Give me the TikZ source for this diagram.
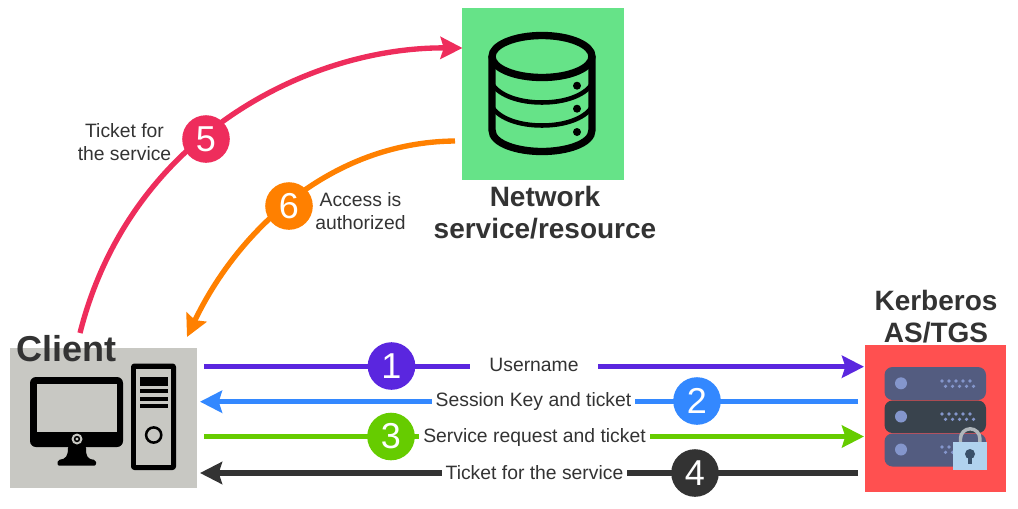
\documentclass[tikz,border=0pt]{standalone}
\usepackage{fontspec}
\setmainfont{Liberation Sans}
\usetikzlibrary{arrows.meta,calc}
\definecolor{cdark}{HTML}{333333}
\definecolor{cviolet}{HTML}{5A26DF}
\definecolor{cblue}{HTML}{3388FF}
\definecolor{cgreen}{HTML}{66CC00}
\definecolor{cred}{HTML}{EE2D5C}
\definecolor{corange}{HTML}{FF8000}
\definecolor{cclient}{HTML}{C8C8C3}
\definecolor{cserver}{HTML}{FF5050}
\definecolor{cres}{HTML}{66E388}
\definecolor{rackA}{HTML}{535C80}
\definecolor{rackB}{HTML}{39434D}
\definecolor{rackDot}{HTML}{8496CC}
\definecolor{lockB}{HTML}{B0D2EE}
\definecolor{lockH}{HTML}{AFB6BB}
\definecolor{lockK}{HTML}{39506A}
\tikzset{
  x=0.75pt,y=-0.75pt,
  conn/.style={line width=4pt,-{Stealth[length=16.5pt,width=16.5pt,inset=2.5pt]}},
  box/.style={anchor=north west,inner sep=0,outer sep=0},
  badge/.style={circle,minimum size=35.7pt,inner sep=0,text=white,font=\fontsize{27}{27}\selectfont},
  lab/.style={fill=white,text=cdark,inner sep=0pt,anchor=base,minimum height=15pt,font=\fontsize{14.5}{17}\selectfont,align=center},
  freelab/.style={text=cdark,inner sep=0pt,font=\fontsize{14.5}{17.3}\selectfont,align=center},
  title/.style={text=cdark,inner sep=0pt,font=\bfseries\fontsize{21}{24}\selectfont,align=center},
}
\begin{document}
\begin{tikzpicture}
\useasboundingbox (0,0) rectangle (1018,508);
% boxes
\node[box,fill=cclient,minimum width=140.25pt,minimum height=105pt] (client) at (10,348) {};
\node[box,fill=cserver,minimum width=105.75pt,minimum height=110.25pt] (server) at (865,345) {};
\node[box,fill=cres,minimum width=121.5pt,minimum height=129pt] (res) at (462,7.5) {};
% client icon: monitor
\fill[black,rounded corners=4.5pt] (30,377) rectangle (123,447);
\fill[cclient] (36.7,383.5) rectangle (117,431.7);
\fill[cclient] (77,439) circle (5.5);
\fill[black] (77,439) circle (3.2);
\fill[cclient] (77,439) circle (1.6);
\fill[black,rounded corners=1.5pt] (68,446) .. controls (68,456) and (66,459) .. (57.5,460) -- (57.5,465.7) -- (96,465.7) -- (96,460) .. controls (87,459) and (86,456) .. (86,446) -- cycle;
% client icon: tower
\fill[black,rounded corners=2.5pt] (131,363.5) rectangle (176,470);
\fill[cclient] (136,368.5) rectangle (171,465);
\fill[black] (140,377) rectangle (167.5,386);
\fill[black] (140,389) rectangle (167.5,393);
\fill[black] (140,396.5) rectangle (167.5,400.5);
\fill[black] (140,403.5) rectangle (167.5,407.5);
\draw[black,line width=1.9pt] (153.7,435) circle (7.6);
% server icon
\fill[rackA,rounded corners=6pt] (884.5,367) rectangle (986,400);
\fill[rackB,rounded corners=6pt] (884.5,400.5) rectangle (986,433);
\fill[rackA,rounded corners=6pt] (884.5,433.5) rectangle (986,466.5);
\foreach \yy in {383.3,416.5,449.5}{\fill[rackDot] (901,\yy) circle (6);}
\foreach \yy in {381,414}{
  \foreach \xx in {942,949,956,963,970}{\fill[rackDot] (\xx,\yy) circle (1.8);\fill[rackDot] (\xx+3.5,\yy+5.3) circle (1.8);}
}
\foreach \xx in {942,949}{\fill[rackDot] (\xx,447) circle (1.8);\fill[rackDot] (\xx+3.5,452.3) circle (1.8);}
\draw[lockH,line width=2.6pt] (960.5,442) -- (960.5,438.5) arc[start angle=180,end angle=360,radius=9.7] -- (979.9,442);
\fill[lockB] (952.7,442) rectangle (987.3,470);
\fill[lockK] (970,454) circle (5);
\fill[lockK] (968,456) rectangle (972,464);
% database icon
\draw[black,line width=5.5pt] (542,56.5) ellipse [x radius=50,y radius=21];
\draw[black,line width=5.5pt] (492,56.5) -- (492,130) .. controls (492,144) and (518,151.5) .. (542,151.5) .. controls (566,151.5) and (592,144) .. (592,130) -- (592,56.5);
\draw[black,line width=3.4pt] (492,84) .. controls (500,96) and (520,102.5) .. (542,102.5) .. controls (564,102.5) and (584,96) .. (592,84);
\draw[black,line width=3.4pt] (492,107) .. controls (500,119) and (520,125.5) .. (542,125.5) .. controls (564,125.5) and (584,119) .. (592,107);
\foreach \yy in {85.7,108.7,132}{\fill[black] (577,\yy) circle (4);}
% anchors
\coordinate (c1) at (204,366.7); \coordinate (s1) at (864,366.7);
\coordinate (s2) at (858,401.7); \coordinate (c2) at (200,401.7);
\coordinate (c3) at (204,436.5); \coordinate (s3) at (864,436.5);
\coordinate (s4) at (858,473); \coordinate (c4) at (200,473);
\coordinate (c5) at (80,333); \coordinate (r5) at (462.5,48);
\coordinate (r6) at (455,141); \coordinate (c6) at (187,337);
% curved connectors
\draw[conn,cred] (c5) .. controls (130,135) and (310,47) .. (r5);
\draw[conn,corange] (r6) .. controls (330,142) and (237,232) .. (c6);
% straight connectors
\draw[conn,cviolet] (c1) -- (s1);
\draw[conn,cblue] (s2) -- (c2);
\draw[conn,cgreen] (c3) -- (s3);
\draw[conn,cdark] (s4) -- (c4);
% labels on connectors
\node[lab,minimum width=96pt] (l1) at (534,371) {Username};
\node[lab,minimum width=152.25pt] (l2) at (533.5,406.7) {Session Key and ticket};
\node[lab,minimum width=173.25pt] (l3) at (534.5,442.3) {Service request and ticket};
\node[lab,minimum width=138.75pt] (l4) at (534.5,479) {Ticket for the service};
% badges
\node[badge,fill=cviolet] (b1) at (391.5,366) {1};
\node[badge,fill=cblue] (b2) at (697,401) {2};
\node[badge,fill=cgreen] (b3) at (391,436.5) {3};
\node[badge,fill=cdark] (b4) at (695,473) {4};
\node[badge,fill=cred] (b5) at (206,139) {5};
\node[badge,fill=corange] (b6) at (289,206) {6};
% free texts
\node[freelab] (t5) at (124.5,142.5) {Ticket for\\the service};
\node[freelab] (t6) at (360.5,211) {Access is\\authorized};
\node[title] (tres) at (545,212.5) {Network\\service/resource};
\node[title] (tsrv) at (936,317) {Kerberos\\AS/TGS};
\node[title,font=\bfseries\fontsize{27}{30}\selectfont] (tcli) at (66.5,348.5) {Client};
\end{tikzpicture}
\end{document}
